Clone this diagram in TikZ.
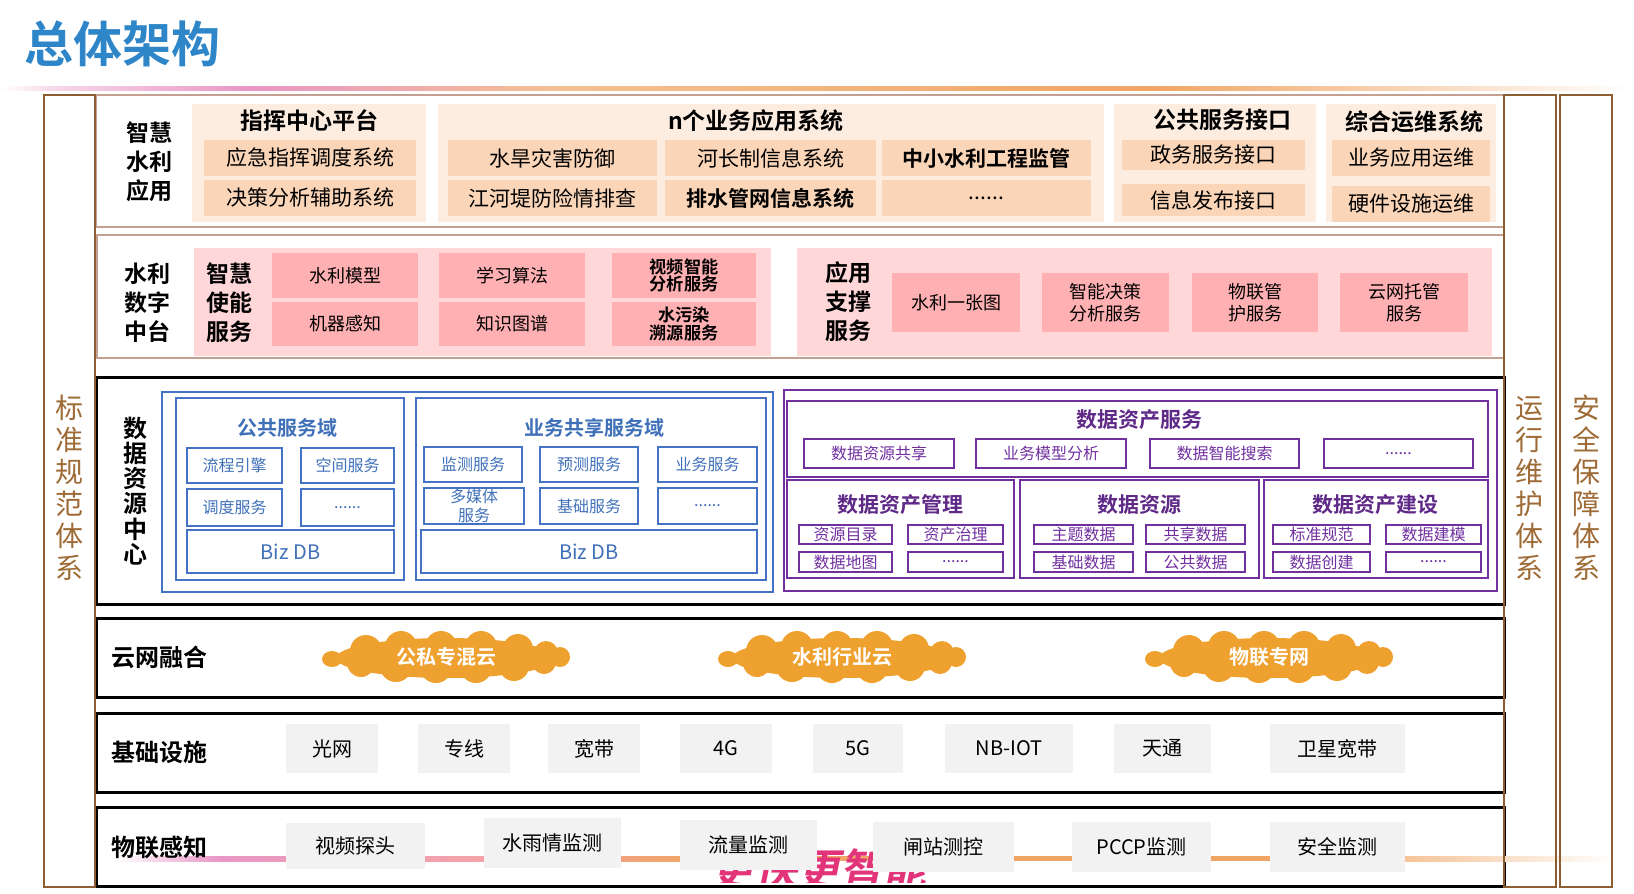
\documentclass[tikz,border=0pt]{standalone}
\usepackage{fontspec}
\setmainfont{Noto Sans CJK SC}[BoldFont={Noto Sans CJK SC Bold},
  BoldItalicFont={Noto Sans CJK SC Bold},BoldItalicFeatures={FakeSlant=0.2}]
\definecolor{TitleBlue}  {RGB}{46,134,201}
\definecolor{ColBrown}   {RGB}{139,94,52}
\definecolor{ColText}    {RGB}{158,106,53}
\definecolor{FrameTan}   {RGB}{196,160,146}
\definecolor{PeachPanel} {RGB}{253,236,224}
\definecolor{PeachBox}   {RGB}{250,213,184}
\definecolor{PinkPanel}  {RGB}{255,215,217}
\definecolor{PinkBox}    {RGB}{255,176,178}
\definecolor{DomBlue}    {RGB}{68,114,196}
\definecolor{DomText}    {RGB}{63,112,184}
\definecolor{AssetPurple}{RGB}{112,48,160}
\definecolor{CloudOrange}{RGB}{239,161,48}
\definecolor{GreyBox}    {RGB}{242,242,242}
\definecolor{LinePink}   {RGB}{233,150,197}
\definecolor{LineSalmon} {RGB}{244,163,168}
\definecolor{LineOrange} {RGB}{240,165,100}
\definecolor{SloganPink} {RGB}{226,52,120}
\newcommand{\fsz}[2]{\fontsize{#1}{#2}\selectfont}

\begin{document}
\begin{tikzpicture}[x=0.5pt,y=-0.5pt,
  every node/.style={inner sep=0pt,outer sep=0pt},
  wh/.style 2 args={minimum width=#1*0.5pt,minimum height=#2*0.5pt},
  colbox/.style={draw=ColBrown,line width=1pt},
  coltext/.style={text=ColText,align=center,font=\fsz{14}{16}},
  tanframe/.style={draw=FrameTan,line width=1pt},
  blackframe/.style={draw=black,line width=1.5pt},
  lbl/.style={align=center,font=\fsz{11.5}{14.5}\bfseries},
  layerlbl/.style={anchor=west,font=\fsz{12}{14}\bfseries},
  ptitle/.style={font=\fsz{11.5}{13}\bfseries},
  peachpanel/.style={fill=PeachPanel},
  peachbox/.style={fill=PeachBox,font=\fsz{10.5}{12}},
  boldtxt/.style={font=\fsz{10.5}{12}\bfseries},
  pinkpanel/.style={fill=PinkPanel},
  pinkbox/.style={fill=PinkBox,align=center,font=\fsz{9}{11}},
  pinkbold/.style={fill=PinkBox,align=center,font=\fsz{8.6}{8.8}\bfseries},
  bluebox/.style={draw=DomBlue,line width=1pt},
  bluesm/.style={draw=DomBlue,line width=1pt,text=DomText,align=center,
    font=\fsz{8}{9.5}},
  domtitle/.style={text=DomText,font=\fsz{10}{12}\bfseries},
  purplebox/.style={draw=AssetPurple,line width=1pt},
  purplesm/.style={draw=AssetPurple,line width=1pt,text=AssetPurple,
    font=\fsz{8}{9}},
  assettitle/.style={text=AssetPurple!85!black,font=\fsz{10.5}{12}\bfseries},
  cloudtext/.style={text=white,font=\fsz{10}{12}\bfseries},
  cloudblob/.pic={
    \fill[CloudOrange] (0,1) ellipse [x radius=110,y radius=20];
    \foreach \cx/\cy/\r in {-80/-6/16,-45/-10/16,-5/-10/16,35/-10/16,
                            72/-8/15,100/-4/12,-85/6/14,-50/9/16,
                            -10/10/16,30/10/16,68/9/15,98/5/12}
      \fill[CloudOrange] (\cx,\cy) circle [radius=\r];
    \fill[CloudOrange] (-114,2) ellipse [x radius=10,y radius=8];
    \fill[CloudOrange] (114,0) ellipse [x radius=10,y radius=10];
  },
  greybox/.style={fill=GreyBox,font=\fsz{10}{12}}]
  \useasboundingbox (0,0) rectangle (1634,894);

  %% Title and the shaded rule under it
  \node[anchor=west,text=TitleBlue,font=\fsz{24.5}{26}\bfseries]
       (title) at (25,44) {总体架构};
  \fill[left color=white,right color=LinePink!40] (0,86) rectangle (60,90);
  \fill[left color=LinePink!40,right color=LinePink] (60,86) rectangle (250,90);
  \fill[left color=LinePink,right color=LineOrange!70] (250,86) rectangle (560,90);
  \fill[left color=LineOrange!70,right color=LineOrange] (560,86) rectangle (1150,90);
  \fill[left color=LineOrange,right color=white] (1150,86) rectangle (1634,90);

  %% Layer 1: 智慧水利应用
  \node[tanframe,wh={1408}{132}] (appframe) at (800,161) {};
  \node[lbl] (applbl) at (149,162) {智慧\\水利\\应用};
  \node[peachpanel,wh={234}{118}] (cmdpanel) at (309,163) {};
  \node[ptitle] (cmdtitle) at (309,121) {指挥中心平台};
  \node[peachbox,wh={212}{36}] (cmd1) at (310,158) {应急指挥调度系统};
  \node[peachbox,wh={212}{36}] (cmd2) at (310,198) {决策分析辅助系统};
  \node[peachpanel,wh={666}{118}] (bizpanel) at (771,163) {};
  \node[ptitle] (biztitle) at (756,121) {n个业务应用系统};
  \node[peachbox,wh={209}{36}] (biz1) at (552.5,158) {水旱灾害防御};
  \node[peachbox,wh={211}{36}] (biz2) at (770.5,158) {河长制信息系统};
  \node[peachbox,boldtxt,wh={209}{36}] (biz3) at (986.5,158) {中小水利工程监管};
  \node[peachbox,wh={209}{36}] (biz4) at (552.5,198) {江河堤防险情排查};
  \node[peachbox,boldtxt,wh={211}{36}] (biz5) at (770.5,198) {排水管网信息系统};
  \node[peachbox,wh={209}{36}] (biz6) at (986.5,198) {......};
  \node[peachpanel,wh={202}{118}] (pubpanel) at (1215,163) {};
  \node[ptitle] (pubtitle) at (1222,120) {公共服务接口};
  \node[peachbox,wh={183}{30}] (pub1) at (1213.5,155) {政务服务接口};
  \node[peachbox,wh={183}{32}] (pub2) at (1213.5,200) {信息发布接口};
  \node[peachpanel,wh={170}{118}] (opspanel) at (1411,163) {};
  \node[ptitle] (opstitle) at (1414,122) {综合运维系统};
  \node[peachbox,wh={158}{36}] (ops1) at (1411,158) {业务应用运维};
  \node[peachbox,wh={158}{36}] (ops2) at (1411,204) {硬件设施运维};

  %% Layer 2: 水利数字中台
  \node[tanframe,wh={1407}{123}] (hubframe) at (800.5,296.5) {};
  \node[lbl] (hublbl) at (147,303) {水利\\数字\\中台};
  \node[pinkpanel,wh={577}{108}] (aipanel) at (482.5,302) {};
  \node[lbl] (ailbl) at (229,303) {智慧\\使能\\服务};
  \node[pinkbox,wh={146}{45}] (ai1) at (345,275.5) {水利模型};
  \node[pinkbox,wh={146}{45}] (ai2) at (512,275.5) {学习算法};
  \node[pinkbold,wh={144}{45}] (ai3) at (684,275.5) {视频智能\\分析服务};
  \node[pinkbox,wh={146}{44}] (ai4) at (345,324) {机器感知};
  \node[pinkbox,wh={146}{44}] (ai5) at (512,324) {知识图谱};
  \node[pinkbold,wh={144}{44}] (ai6) at (684,324) {水污染\\溯源服务};
  \node[pinkpanel,wh={695}{108}] (suppanel) at (1144.5,302) {};
  \node[lbl] (suplbl) at (848,302) {应用\\支撑\\服务};
  \node[pinkbox,wh={128}{59}] (sup1) at (956,302.5) {水利一张图};
  \node[pinkbox,wh={127}{59}] (sup2) at (1105.5,302.5) {智能决策\\分析服务};
  \node[pinkbox,wh={126}{59}] (sup3) at (1255,302.5) {物联管\\护服务};
  \node[pinkbox,wh={128}{59}] (sup4) at (1404,302.5) {云网托管\\服务};

  %% Layer 3: 数据资源中心
  \node[blackframe,wh={1408}{227}] (dataframe) at (800,490.5) {};
  \node[align=center,font=\fsz{12}{12.6}\bfseries] (datalbl) at (135.5,491)
       {数\\据\\资\\源\\中\\心};
  \node[bluebox,wh={611}{200}] (domouter) at (467.5,492) {};
  \node[bluebox,wh={228}{182}] (pubdom) at (290,489) {};
  \node[domtitle] (pubdomt) at (287,428) {公共服务域};
  \node[bluesm,wh={95}{35}] (pd1) at (234.5,465.5) {流程引擎};
  \node[bluesm,wh={93}{35}] (pd2) at (347.5,465.5) {空间服务};
  \node[bluesm,wh={95}{37}] (pd3) at (234.5,507.5) {调度服务};
  \node[bluesm,wh={93}{37}] (pd4) at (347.5,507.5) {......};
  \node[bluesm,wh={207}{43},font=\fsz{10}{12}] (pddb) at (290.5,551.5) {Biz DB};
  \node[bluebox,wh={350}{182}] (bizdom) at (591,489) {};
  \node[domtitle] (bizdomt) at (594,428) {业务共享服务域};
  \node[bluesm,wh={98}{35}] (bd1) at (473,464.5) {监测服务};
  \node[bluesm,wh={98}{35}] (bd2) at (589,464.5) {预测服务};
  \node[bluesm,wh={99}{35}] (bd3) at (707.5,464.5) {业务服务};
  \node[bluesm,wh={100}{36}] (bd4) at (474,506) {多媒体\\服务};
  \node[bluesm,wh={98}{36}] (bd5) at (589,506) {基础服务};
  \node[bluesm,wh={99}{36}] (bd6) at (707.5,506) {......};
  \node[bluesm,wh={336}{43},font=\fsz{10}{12}] (bddb) at (589,551.5) {Biz DB};
  %% data assets (purple)
  \node[purplebox,wh={713}{201}] (assetouter) at (1140.5,490.5) {};
  \node[purplebox,wh={701}{76}] (assetsvc) at (1137.5,439) {};
  \node[assettitle] (assetsvct) at (1139,420) {数据资产服务};
  \node[purplesm,wh={150}{29}] (as1) at (879,453.5) {数据资源共享};
  \node[purplesm,wh={150}{29}] (as2) at (1051,453.5) {业务模型分析};
  \node[purplesm,wh={149}{29}] (as3) at (1224.5,453.5) {数据智能搜索};
  \node[purplesm,wh={149}{29}] (as4) at (1398.5,453.5) {......};
  \node[purplebox,wh={227}{98}] (assetmgmt) at (900.5,529) {};
  \node[assettitle] (assetmgmtt) at (900,505) {数据资产管理};
  \node[purplesm,wh={93}{19}] (am1) at (845.5,534.5) {资源目录};
  \node[purplesm,wh={95}{19}] (am2) at (955.5,534.5) {资产治理};
  \node[purplesm,wh={93}{20}] (am3) at (845.5,562) {数据地图};
  \node[purplesm,wh={95}{20}] (am4) at (955.5,562) {......};
  \node[purplebox,wh={239}{98}] (assetres) at (1139.5,529) {};
  \node[assettitle] (assetrest) at (1139,505) {数据资源};
  \node[purplesm,wh={99}{19}] (ar1) at (1083.5,534.5) {主题数据};
  \node[purplesm,wh={99}{19}] (ar2) at (1195.5,534.5) {共享数据};
  \node[purplesm,wh={99}{20}] (ar3) at (1083.5,562) {基础数据};
  \node[purplesm,wh={99}{20}] (ar4) at (1195.5,562) {公共数据};
  \node[purplebox,wh={224}{98}] (assetbuild) at (1376,529) {};
  \node[assettitle] (assetbuildt) at (1375,505) {数据资产建设};
  \node[purplesm,wh={97}{19}] (ab1) at (1321.5,534.5) {标准规范};
  \node[purplesm,wh={95}{19}] (ab2) at (1433.5,534.5) {数据建模};
  \node[purplesm,wh={97}{20}] (ab3) at (1321.5,562) {数据创建};
  \node[purplesm,wh={95}{20}] (ab4) at (1433.5,562) {......};

  %% Layer 4: 云网融合
  \node[blackframe,wh={1408}{79}] (cloudframe) at (800,657.5) {};
  \node[layerlbl] (cloudlbl) at (111,657) {云网融合};
  \pic at (446,657) {cloudblob};
  \node[cloudtext] (cloud1) at (446,657) {公私专混云};
  \pic at (842,657) {cloudblob};
  \node[cloudtext] (cloud2) at (842,657) {水利行业云};
  \pic at (1269,657) {cloudblob};
  \node[cloudtext] (cloud3) at (1269,657) {物联专网};

  %% Layer 5: 基础设施
  \node[blackframe,wh={1408}{79}] (baseframe) at (800,752.5) {};
  \node[layerlbl] (baselbl) at (111,752) {基础设施};
  \node[greybox,wh={92}{49}] (net1) at (332,748.5) {光网};
  \node[greybox,wh={92}{49}] (net2) at (464,748.5) {专线};
  \node[greybox,wh={92}{49}] (net3) at (594,748.5) {宽带};
  \node[greybox,wh={92}{49}] (net4) at (726,748.5) {4G};
  \node[greybox,wh={90}{49}] (net5) at (858,748.5) {5G};
  \node[greybox,wh={128}{49}] (net6) at (1009,748.5) {NB-IOT};
  \node[greybox,wh={97}{49}] (net7) at (1162.5,748.5) {天通};
  \node[greybox,wh={135}{49}] (net8) at (1337.5,748.5) {卫星宽带};

  %% Layer 6: 物联感知 (shaded rule and faded slogan behind the boxes)
  \node[blackframe,wh={1408}{79}] (iotframe) at (800,846.5) {};
  \fill[left color=white,right color=LinePink] (115,856) rectangle (220,861);
  \fill[left color=LinePink,right color=LineSalmon] (220,856) rectangle (480,861);
  \fill[left color=LineSalmon,right color=LineOrange] (480,856) rectangle (700,861);
  \fill[LineOrange] (700,856) rectangle (1300,861);
  \fill[left color=LineOrange,right color=white] (1300,856) rectangle (1614,861);
  \begin{scope}
    \clip (96,807) rectangle (1504,882);
    \node[text=SloganPink,font=\fsz{21.5}{24}\bfseries\itshape]
         (slogan) at (819,869) {更快更智能};
  \end{scope}
  \node[layerlbl] (iotlbl) at (111,847) {物联感知};
  \node[greybox,wh={139}{46}] (iot1) at (355.5,846) {视频探头};
  \node[greybox,wh={137}{50}] (iot2) at (552.5,843) {水雨情监测};
  \node[greybox,wh={137}{50}] (iot3) at (748.5,845) {流量监测};
  \node[greybox,wh={141}{50}] (iot4) at (943.5,847) {闸站测控};
  \node[greybox,wh={139}{50}] (iot5) at (1141.5,847) {PCCP监测};
  \node[greybox,wh={135}{50}] (iot6) at (1337.5,847) {安全监测};

  %% Side columns
  \node[colbox,wh={51}{792}] (stdcol) at (69.5,491) {};
  \node[coltext] (stdtxt) at (69.5,488) {标\\准\\规\\范\\体\\系};
  \node[colbox,wh={52}{792}] (opscol) at (1530,491) {};
  \node[coltext] (opstxt) at (1529,488) {运\\行\\维\\护\\体\\系};
  \node[colbox,wh={52}{792}] (seccol) at (1586,491) {};
  \node[coltext] (sectxt) at (1586,488) {安\\全\\保\\障\\体\\系};
\end{tikzpicture}
\end{document}
